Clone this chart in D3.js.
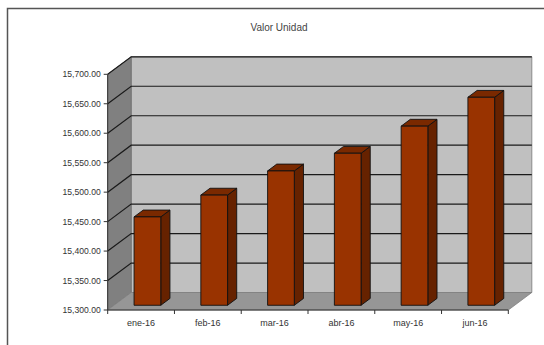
<!DOCTYPE html>
<html><head><meta charset="utf-8">
<script src="https://cdn.jsdelivr.net/npm/d3@7/dist/d3.min.js"></script>
<style>body{margin:0;background:#fff}svg{display:block}</style>
</head><body>
<script>
const categories = ["ene-16","feb-16","mar-16","abr-16","may-16","jun-16"];
const values = [15450, 15487, 15528, 15558, 15604, 15653];
const yTicks = [15300,15350,15400,15450,15500,15550,15600,15650,15700];
const title = "Valor Unidad";

const W = 544, H = 345;
const svg = d3.select("body").append("svg").attr("width", W).attr("height", H);

// outer frame (top & left visible)
svg.append("path").attr("d", "M7.5,345 L7.5,8.5 L544,8.5").attr("fill","none").attr("stroke","#555").attr("stroke-width",1.5);

svg.append("text").attr("x", 279).attr("y", 31).attr("text-anchor","middle")
  .attr("font-family","Liberation Sans, Arial, sans-serif").attr("font-size",10).attr("fill","#444").text(title);

const x0 = 107.7, x1 = 508.3, yTop = 74.3, yBot = 310;
const DX = 23.5, DY = -17.5;
const x = d3.scaleBand().domain(categories).range([x0, x1]);
const y = d3.scaleLinear().domain([15300, 15700]).range([yBot, yTop]);

const pts = a => a.map(p => p.join(",")).join(" ");
// back wall
svg.append("polygon").attr("points", pts([[x0+DX, yTop+DY],[x1+DX, yTop+DY],[x1+DX, yBot+DY],[x0+DX, yBot+DY]]))
  .attr("fill","#c0c0c0").attr("stroke","#8a8a8a").attr("stroke-width",1);
// side wall
svg.append("polygon").attr("points", pts([[x0, yTop],[x0+DX, yTop+DY],[x0+DX, yBot+DY],[x0, yBot]]))
  .attr("fill","#808080").attr("stroke","#707070").attr("stroke-width",0.8);
// floor
svg.append("polygon").attr("points", pts([[x0, yBot],[x1, yBot],[x1+DX, yBot+DY],[x0+DX, yBot+DY]]))
  .attr("fill","#969696").attr("stroke","#808080").attr("stroke-width",0.8);

// gridlines
const grid = svg.append("g").attr("stroke","#1a1a1a").attr("stroke-width",1.2).attr("fill","none");
yTicks.filter(t => t > 15300).forEach(t => {
  const yy = y(t);
  grid.append("path").attr("d", `M${x0},${yy} L${x0+DX},${yy+DY} L${x1+DX},${yy+DY}`);
});

// axes
const axisG = svg.append("g").attr("stroke","#333").attr("stroke-width",1).attr("fill","none");
axisG.append("line").attr("x1",x0).attr("x2",x0).attr("y1",yTop).attr("y2",yBot);
axisG.append("line").attr("x1",x0).attr("x2",x1).attr("y1",yBot).attr("y2",yBot);
yTicks.forEach(t => axisG.append("line").attr("x1",x0-4).attr("x2",x0).attr("y1",y(t)).attr("y2",y(t)));
categories.forEach(c => axisG.append("line").attr("x1",x(c)).attr("x2",x(c)).attr("y1",yBot).attr("y2",yBot+4));
axisG.append("line").attr("x1",x1).attr("x2",x1).attr("y1",yBot).attr("y2",yBot+4);

const fmt = d3.format(",.2f");
svg.append("g").selectAll("text").data(yTicks).join("text")
  .attr("x", x0-7).attr("y", d => y(d)).attr("dy","0.35em").attr("text-anchor","end")
  .attr("font-family","Liberation Sans, Arial, sans-serif").attr("font-size",8.6).attr("fill","#333")
  .text(d => fmt(d));
svg.append("g").selectAll("text").data(categories).join("text")
  .attr("x", d => x(d) + x.bandwidth()/2).attr("y", 326).attr("text-anchor","middle")
  .attr("font-family","Liberation Sans, Arial, sans-serif").attr("font-size",9).attr("fill","#333")
  .text(d => d);

// bars
const fOff = 0.27, bDepth = 0.39, bw = x.bandwidth()*0.4;
const ox = DX*fOff, oy = DY*fOff, bdx = DX*bDepth, bdy = DY*bDepth;
const bars = svg.append("g").attr("stroke","#111").attr("stroke-width",0.9).attr("stroke-linejoin","round");
categories.forEach((c, i) => {
  const bx = x(c) + x.bandwidth()*0.3 + ox;
  const top = y(values[i]) + oy, bot = yBot + oy;
  bars.append("polygon").attr("points", pts([[bx+bw, top],[bx+bw+bdx, top+bdy],[bx+bw+bdx, bot+bdy],[bx+bw, bot]])).attr("fill","#662200");
  bars.append("polygon").attr("points", pts([[bx, top],[bx+bdx, top+bdy],[bx+bw+bdx, top+bdy],[bx+bw, top]])).attr("fill","#7a2900");
  bars.append("rect").attr("x", bx).attr("y", top).attr("width", bw).attr("height", bot-top).attr("fill","#993300");
});
</script>
</body></html>
